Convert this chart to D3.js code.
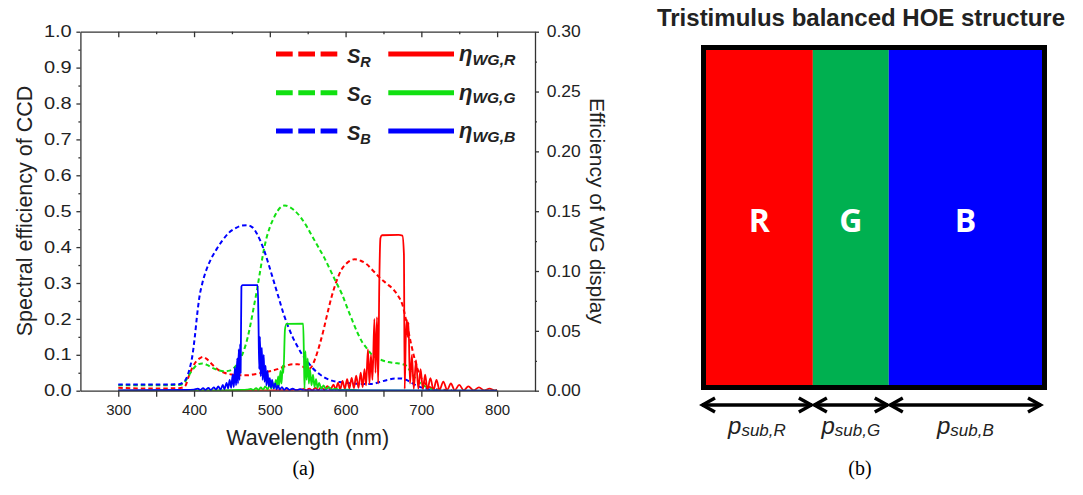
<!DOCTYPE html>
<html>
<head>
<meta charset="utf-8">
<script src="https://cdnjs.cloudflare.com/ajax/libs/d3/7.8.5/d3.min.js"></script>
<style>
  body { margin: 0; background: #fff; }
  svg { display: block; }
  .axis path, .axis line { stroke: #333; stroke-width: 1.3; }
  .axis text { font-family: "Liberation Sans", Arial, sans-serif; fill: #222; }
  .axis.bottom text { font-size: 15px; }
  .axis.left text { font-size: 16px; }
  .axis.right text { font-size: 16.5px; }
  .lab { font-family: "Liberation Sans", Arial, sans-serif; fill: #222; }
</style>
</head>
<body>
<svg id="chart" width="1083" height="495"></svg>
<script>
// ---- tick labels
var wavelengthTicks = [300, 400, 500, 600, 700, 800];
var wavelengthMinor = [350, 450, 550, 650, 750];
var ccdTicks = [0, 0.1, 0.2, 0.3, 0.4, 0.5, 0.6, 0.7, 0.8, 0.9, 1.0];
var ccdMinor = [0.05, 0.15, 0.25, 0.35, 0.45, 0.55, 0.65, 0.75, 0.85, 0.95];
var wgTicks = [0, 0.05, 0.10, 0.15, 0.20, 0.25, 0.30];
var wgMinor = [0.025, 0.075, 0.125, 0.175, 0.225, 0.275];

// ---- spectral efficiency of CCD (left axis), [nm, value]
var sR = [[300,0.008],[340,0.006],[380,0.007],[388,0.012],[393,0.04],[398,0.065],[403,0.082],[408,0.091],[412,0.094],[417,0.088],
  [424,0.073],[432,0.058],[440,0.05],[450,0.045],[460,0.043],[470,0.043],[480,0.046],[490,0.05],[500,0.054],[510,0.06],
  [520,0.068],[530,0.074],[537,0.074],[543,0.068],[549,0.061],[553,0.062],[560,0.09],[566,0.13],[571,0.17],[576,0.215],
  [582,0.265],[588,0.305],[594,0.335],[600,0.352],[606,0.362],[612,0.366],[620,0.362],[628,0.352],[636,0.335],[645,0.315],
  [655,0.297],[663,0.282],[670,0.262],[675,0.24],[679,0.205],[683,0.165],[687,0.125],[691,0.09],[695,0.06],[700,0.035],
  [706,0.018],[713,0.008],[720,0.004],[740,0.002]];
var sG = [[300,0.015],[340,0.015],[380,0.016],[386,0.02],[391,0.035],[396,0.052],[401,0.066],[406,0.074],[411,0.076],[417,0.072],
  [424,0.064],[432,0.057],[440,0.054],[447,0.056],[453,0.064],[458,0.077],[463,0.097],[467,0.12],[471,0.15],[475,0.19],
  [479,0.235],[483,0.28],[487,0.33],[491,0.38],[495,0.42],[500,0.455],[505,0.48],[510,0.5],[515,0.512],[520,0.516],
  [526,0.512],[532,0.503],[540,0.485],[548,0.46],[556,0.43],[564,0.4],[572,0.37],[580,0.335],[588,0.3],[595,0.27],
  [602,0.232],[609,0.195],[616,0.16],[622,0.135],[628,0.118],[634,0.102],[640,0.092],[648,0.085],[656,0.08],[665,0.077],
  [675,0.074],[681,0.068],[686,0.052],[692,0.035],[698,0.022],[705,0.012],[713,0.005],[722,0.002]];
var sB = [[300,0.017],[340,0.017],[380,0.018],[385,0.022],[390,0.035],[394,0.06],[398,0.1],[401,0.15],[404,0.21],[407,0.26],
  [411,0.3],[416,0.335],[422,0.365],[430,0.395],[438,0.42],[446,0.44],[455,0.453],[463,0.46],[470,0.461],[477,0.455],
  [483,0.437],[488,0.415],[493,0.388],[498,0.355],[503,0.32],[508,0.285],[513,0.25],[518,0.215],[524,0.18],[530,0.15],
  [536,0.125],[543,0.1],[550,0.08],[557,0.062],[565,0.047],[573,0.036],[582,0.028],[592,0.024],[605,0.021],[620,0.019],
  [635,0.019],[645,0.024],[655,0.03],[665,0.034],[673,0.034],[680,0.03],[688,0.021],[696,0.012],[705,0.006],[715,0.002],[725,0.001]];

// ---- efficiency of WG display (right axis), [nm, value]
var etaR = [[300,0],[500,0.0003],[530,0.0006],[540,0.0009],[545,0.0015],[548,0.0003],[552,0.0018],[556,0.0003],[560,0.0024],
  [564,0.0006],[568,0.003],[572,0.0006],[576,0.0039],[580,0.0009],[584,0.0051],[587,0.0009],[590,0.0066],[593,0.0012],
  [596,0.0081],[599,0.0015],[602,0.0096],[605,0.0018],[608,0.0108],[611,0.0021],[614,0.0126],[617,0.0024],[620,0.015],
  [622.5,0.003],[625,0.018],[627,0.0045],[629.5,0.0345],[631.5,0.006],[633.5,0.03],[635.5,0.009],[638,0.06],[639.5,0.015],
  [641.5,0.0615],[643,0.006],[644.5,0.09],[646,0.1275],[648,0.1299],[670,0.1302],[675,0.1296],[677,0.114],[678,0.0015],
  [679.5,0.045],[681,0.0591],[682,0.045],[683,0.057],[685,0.006],[687.5,0.03],[690,0.0015],[693,0.0255],[696,0.0015],
  [699,0.018],[702,0.0012],[705,0.0135],[708,0.0009],[712,0.0105],[716,0.0006],[720,0.009],[724,0.0006],[729,0.0075],
  [734,0.0006],[739,0.006],[744,0.0003],[750,0.0048],[756,0.0003],[762,0.0036],[769,0.0003],[776,0.0027],[783,0.0003],
  [790,0.0018],[797,0.0003],[800,0.0006]];
var etaG = [[300,0],[440,0.0003],[460,0.0006],[470,0.0009],[475,0.0015],[478,0.0006],[482,0.0021],[485,0.0006],[488,0.0027],
  [491,0.0009],[494,0.0036],[497,0.0012],[500,0.0048],[502,0.0018],[504,0.0066],[506,0.0024],[508,0.009],[509.5,0.003],
  [511,0.012],[512.5,0.0045],[514,0.0165],[515.5,0.006],[517,0.021],[518,0.015],[520,0.051],[522,0.0558],[544,0.0561],
  [545,0.03],[545.8,0.0015],[547,0.033],[548.5,0.009],[550,0.027],[551.5,0.006],[553,0.018],[555,0.0045],[557,0.0135],
  [559,0.003],[561,0.0096],[563,0.0024],[565,0.0066],[568,0.0015],[571,0.0045],[574,0.0012],[578,0.003],[582,0.0009],
  [587,0.0018],[592,0.0006],[600,0.0009],[620,0.0003],[800,0]];
var etaB = [[300,0.0003],[390,0.0006],[400,0.0009],[405,0.0018],[408,0.0006],[412,0.0021],[415,0.0006],[419,0.0024],[422,0.0006],
  [426,0.0027],[429,0.0009],[432,0.0036],[435,0.0009],[438,0.0048],[440,0.0012],[443,0.0066],[445,0.0018],[447,0.009],
  [449,0.0024],[451,0.0135],[452.5,0.003],[454,0.0195],[455.5,0.0045],[457,0.027],[458,0.006],[459,0.0345],[460,0.009],
  [460.8,0.039],[461.5,0.015],[462.5,0.087],[464,0.0882],[484,0.0882],[485,0.06],[486,0.018],[487,0.045],[488,0.012],
  [489.5,0.036],[490.5,0.009],[492,0.03],[493,0.0075],[494.5,0.021],[495.5,0.0045],[497,0.0165],[498.5,0.0036],[500,0.0105],
  [501.5,0.0024],[503,0.009],[505,0.0018],[507,0.006],[509,0.0012],[511,0.0045],[513,0.0009],[516,0.003],[519,0.0006],
  [522,0.0024],[526,0.0006],[530,0.0018],[535,0.0003],[540,0.0012],[545,0.0003],[560,0.0003],[800,0]];

var channels = ["R", "G", "B"];
var lineColors = ["#ff0000", "#11e011", "#0000ff"];

// ---- HOE structure: sub-pixel share of the pitch
var subpixels = ["R", "G", "B"];
var pitchShare = [0.318, 0.226, 0.456];
var fillColors = ["#ff0000", "#00b050", "#0000ff"];

var svg = d3.select("#chart");
svg.append("rect").attr("width", 1083).attr("height", 495).attr("fill", "#fff");

var plot = {left: 80.4, right: 535, top: 31.7, bottom: 390.7};
var x = d3.scaleLinear().domain([250, 850]).range([plot.left, plot.right]);
var yL = d3.scaleLinear().domain([0, 1]).range([plot.bottom, plot.top]);
var yR = d3.scaleLinear().domain([0, 0.3]).range([plot.bottom, plot.top]);

svg.append("clipPath").attr("id", "clip").append("rect")
  .attr("x", plot.left).attr("y", plot.top)
  .attr("width", plot.right - plot.left).attr("height", plot.bottom - plot.top);

var lineL = d3.line().x(d => x(d[0])).y(d => yL(d[1])).curve(d3.curveMonotoneX);
var lineR = d3.line().x(d => x(d[0])).y(d => yR(d[1])).curve(d3.curveMonotoneX);

var curves = svg.append("g").attr("clip-path", "url(#clip)");
[sR, sG, sB].forEach(function(s, i) {
  curves.append("path").attr("d", lineL(s)).attr("fill", "none")
    .attr("stroke", lineColors[i]).attr("stroke-width", 2).attr("stroke-dasharray", "4.5,3");
});
[etaR, etaG, etaB].forEach(function(s, i) {
  curves.append("path").attr("d", lineR(s)).attr("fill", "none")
    .attr("stroke", lineColors[i]).attr("stroke-width", 1.8).attr("stroke-linejoin", "round");
});

// axes
function noDomain(g) { g.select(".domain").remove(); }

svg.append("g").attr("class", "axis bottom").attr("transform", "translate(0," + plot.bottom + ")")
  .call(d3.axisBottom(x).tickValues(wavelengthTicks).tickSize(6).tickSizeOuter(0).tickPadding(7.6));
svg.append("g").attr("class", "axis").attr("transform", "translate(0," + plot.bottom + ")")
  .call(d3.axisBottom(x).tickValues(wavelengthMinor).tickSize(6).tickFormat("")).call(noDomain);

svg.append("g").attr("class", "axis").attr("transform", "translate(0," + plot.top + ")")
  .call(d3.axisTop(x).tickValues(wavelengthTicks).tickSize(-5.5).tickSizeOuter(0).tickFormat(""));
svg.append("g").attr("class", "axis").attr("transform", "translate(0," + plot.top + ")")
  .call(d3.axisTop(x).tickValues(wavelengthMinor).tickSize(-2.5).tickFormat("")).call(noDomain);

var leftAx = svg.append("g").attr("class", "axis left").attr("transform", "translate(" + plot.left + ",0)")
  .call(d3.axisLeft(yL).tickValues(ccdTicks).tickSize(4).tickSizeOuter(0).tickPadding(4.7).tickFormat(d3.format(".1f")));
leftAx.selectAll("text").attr("transform", "translate(-8.7,0) scale(1.25,1) translate(8.7,0)");
svg.append("g").attr("class", "axis").attr("transform", "translate(" + plot.left + ",0)")
  .call(d3.axisLeft(yL).tickValues(ccdMinor).tickSize(2).tickFormat("")).call(noDomain);

var rightAx = svg.append("g").attr("class", "axis right").attr("transform", "translate(" + plot.right + ",0)")
  .call(d3.axisRight(yR).tickValues(wgTicks).tickSize(4).tickSizeOuter(0).tickPadding(7.7).tickFormat(d3.format(".2f")));
rightAx.selectAll("text").attr("transform", "translate(11.7,0) scale(1.06,1) translate(-11.7,0)");
svg.append("g").attr("class", "axis").attr("transform", "translate(" + plot.right + ",0)")
  .call(d3.axisRight(yR).tickValues(wgMinor).tickSize(2).tickFormat("")).call(noDomain);

// axis titles
svg.append("text").attr("class", "lab").attr("x", (plot.left + plot.right) / 2).attr("y", 445)
  .attr("text-anchor", "middle").attr("font-size", 21.5).text("Wavelength (nm)");
svg.append("text").attr("class", "lab").attr("transform", "translate(32,211) rotate(-90)")
  .attr("text-anchor", "middle").attr("font-size", 21.5).text("Spectral efficiency of CCD");
svg.append("text").attr("class", "lab").attr("transform", "translate(590,211) rotate(90)")
  .attr("text-anchor", "middle").attr("font-size", 21).text("Efficiency of WG display");

// legend
var legendRowY = [54, 92.7, 131];
channels.forEach(function(c, i) {
  var y = legendRowY[i];
  var lg = svg.append("g");
  lg.append("line").attr("x1", 276).attr("x2", 337.3).attr("y1", y).attr("y2", y)
    .attr("stroke", lineColors[i]).attr("stroke-width", 5).attr("stroke-dasharray", "16.7,5.6");
  var t1 = lg.append("text").attr("class", "lab").attr("x", 347).attr("y", y + 8.5)
    .attr("font-size", 20).attr("font-weight", "bold").attr("font-style", "italic").text("S");
  t1.append("tspan").attr("font-size", 14.5).attr("dy", 4).text(c);
  lg.append("line").attr("x1", 388.3).attr("x2", 454).attr("y1", y).attr("y2", y)
    .attr("stroke", lineColors[i]).attr("stroke-width", 5);
  var t2 = lg.append("text").attr("class", "lab").attr("x", 459).attr("y", y + 7)
    .attr("font-size", 22).attr("font-weight", "bold").attr("font-style", "italic").text("η");
  t2.append("tspan").attr("font-size", 14).attr("dy", 3.5).attr("textLength", 43)
    .attr("lengthAdjust", "spacingAndGlyphs").text("WG," + c);
});

// ---- right panel: HOE structure
var cum = d3.cumsum(pitchShare);
var xs = d3.scaleLinear().domain([0, 1]).range([706, 1042]);
var panelTop = 50, panelBottom = 385;

subpixels.forEach(function(s, i) {
  var x0 = xs(i === 0 ? 0 : cum[i - 1]), x1 = xs(cum[i]);
  svg.append("rect").attr("x", x0).attr("y", panelTop).attr("width", x1 - x0)
    .attr("height", panelBottom - panelTop).attr("fill", fillColors[i]);
  svg.append("text").attr("x", (x0 + x1) / 2).attr("y", 231.7).attr("text-anchor", "middle")
    .attr("font-family", "'Open Sans', 'Noto Sans', sans-serif").attr("font-weight", "bold")
    .attr("font-size", 32).attr("fill", "#fff").text(s);
});
svg.append("rect").attr("x", 703.5).attr("y", 47.5).attr("width", 341).attr("height", 340)
  .attr("fill", "none").attr("stroke", "#000").attr("stroke-width", 5);

svg.append("text").attr("class", "lab").attr("x", 861).attr("y", 26).attr("text-anchor", "middle")
  .attr("font-size", 24).attr("font-weight", "bold").attr("fill", "#111")
  .text("Tristimulus balanced HOE structure");

// pitch arrows
var ay = 405;
subpixels.forEach(function(s, i) {
  var a0 = i === 0 ? 701 : xs(cum[i - 1]), a1 = xs(cum[i]);
  var ag = svg.append("g").attr("stroke", "#000").attr("stroke-width", 3.4).attr("fill", "none");
  ag.append("line").attr("x1", a0 + 1).attr("x2", a1 - 1).attr("y1", ay).attr("y2", ay);
  ag.append("polyline").attr("points", [[a0 + 14, ay - 7], [a0 + 1.5, ay], [a0 + 14, ay + 7]].join(" "));
  ag.append("polyline").attr("points", [[a1 - 14, ay - 7], [a1 - 1.5, ay], [a1 - 14, ay + 7]].join(" "));
  var pt = svg.append("text").attr("class", "lab").attr("x", (a0 + a1) / 2).attr("y", 434)
    .attr("text-anchor", "middle").attr("font-style", "italic").attr("font-size", 24).attr("fill", "#333").text("p");
  pt.append("tspan").attr("font-size", 17).attr("dy", 2).text("sub," + s);
});

// captions
svg.append("text").attr("x", 303.5).attr("y", 475).attr("text-anchor", "middle")
  .attr("font-family", "'Liberation Serif', 'Times New Roman', serif").attr("font-size", 20).text("(a)");
svg.append("text").attr("x", 860).attr("y", 475).attr("text-anchor", "middle")
  .attr("font-family", "'Liberation Serif', 'Times New Roman', serif").attr("font-size", 20).text("(b)");
</script>
</body>
</html>
